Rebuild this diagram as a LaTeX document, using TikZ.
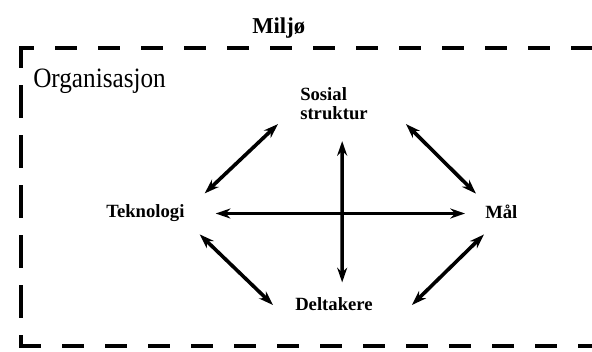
\documentclass[tikz,border=0pt]{standalone}
\usepackage{fontspec}
\setmainfont{Liberation Serif}
\usepackage{tikz}
\usetikzlibrary{arrows.meta, positioning}

\begin{document}
\begin{tikzpicture}[
    x=0.75pt, y=-0.75pt,
    boundary/.style={line width=2.6pt},
    title/.style={inner sep=0pt, anchor=base west, font=\fontsize{17}{17}\selectfont\bfseries},
    factor/.style={inner sep=0pt, font=\fontsize{14}{14.5}\selectfont\bfseries},
    arrow/.style={line width=2.7pt, {Stealth[length=11pt,width=7.5pt]}-{Stealth[length=11pt,width=7.5pt]}}]
\useasboundingbox (0,0) rectangle (592,351);
\clip (0,0) rectangle (592,351);
% dashed frame, sides drawn separately
\draw [boundary, dash pattern=on 16.5pt off 15.75pt, dash phase=5.25pt] (19.3,48) -- (612,48);
\draw [boundary, dash pattern=on 16.5pt off 15.75pt] (19.3,346) -- (612,346);
\draw [boundary, dash pattern=on 24.75pt off 12.75pt, dash phase=15pt] (21,347.7) -- (21,48);
\node (miljo) [title] at (252,33) {Miljø};
\node (org) [inner sep=0pt, anchor=base west, font=\fontsize{21}{21}\selectfont] at (33,87) {\scalebox{0.9}[1]{Organisasjon}};
\node (sosial) [factor, align=left, anchor=north west] at (300,87) {Sosial\\struktur};
\node (tek) [factor, anchor=base west] at (106,217) {Teknologi};
\node (maal) [factor, anchor=base west] at (485,218) {Mål};
\node (delt) [factor, anchor=base west] at (295,310) {Deltakere};
\draw [arrow] ([shift={(20,-10.4)}]tek.north east) -- ([shift={(-22,4)}]sosial.south west);
\draw [arrow] ([shift={(38,4)}]sosial.south east) -- ([shift={(-9,-10.6)}]maal.north west);
\draw [arrow] ([shift={(15,13)}]tek.south east) -- ([shift={(-22,-5)}]delt.base west);
\draw [arrow] ([shift={(39,-5)}]delt.base east) -- ([shift={(-1,16)}]maal.south west);
\draw [arrow] ([shift={(31,-3.5)}]tek.base east) -- ([shift={(-20,-4.5)}]maal.base west);
\draw [arrow] ([shift={(8.2,21)}]sosial.south) -- ([shift={(8.2,-14.4)}]delt.north);
\end{tikzpicture}
\end{document}
